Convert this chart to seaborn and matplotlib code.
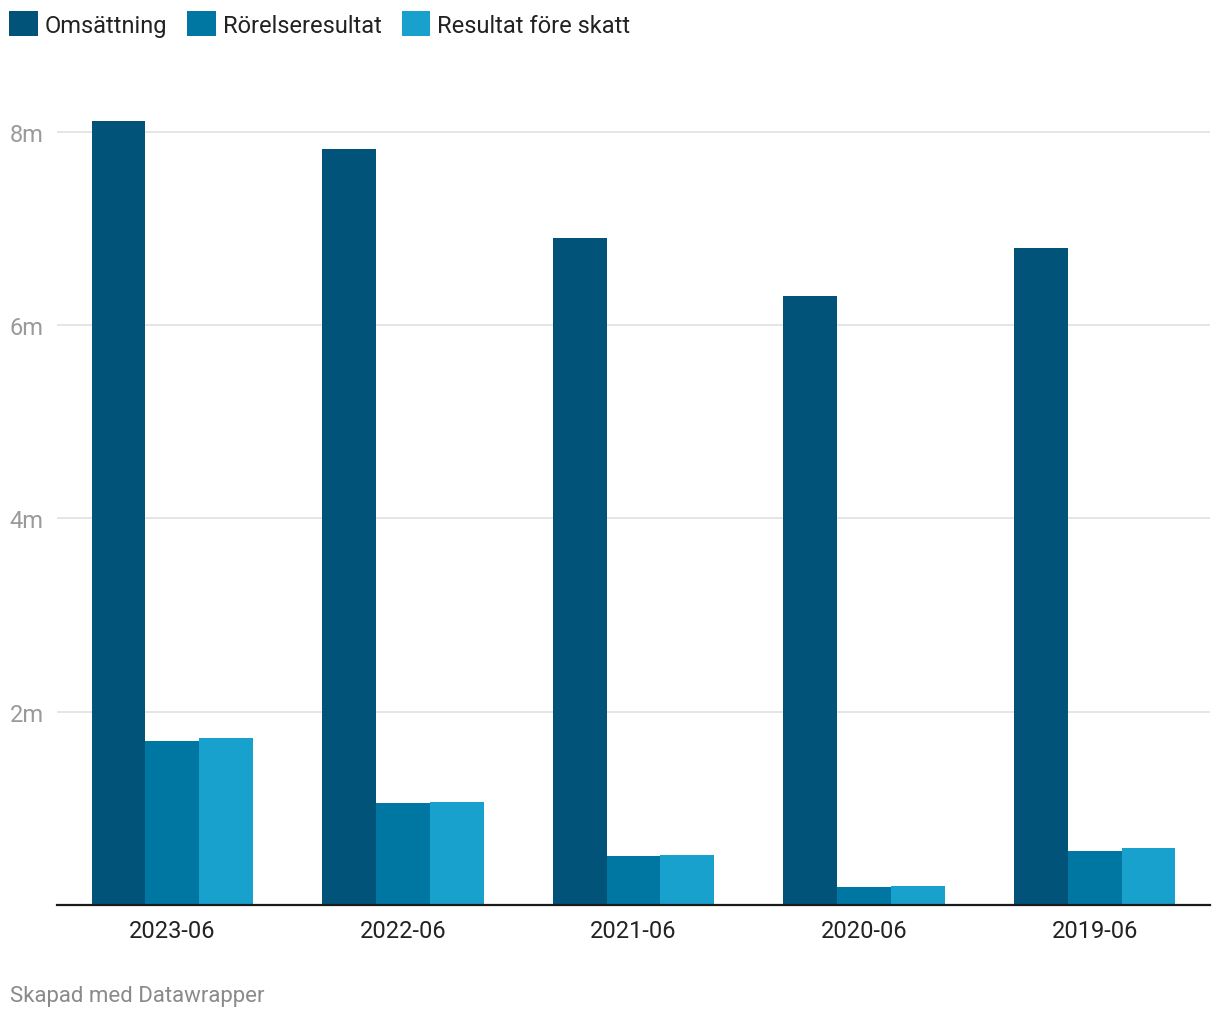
import pandas as pd
import numpy as np
import matplotlib.pyplot as plt
import seaborn as sns
from matplotlib.patches import Patch

# data (values in millions)
perioder = ["2023-06", "2022-06", "2021-06", "2020-06", "2019-06"]
omsattning = [8.11, 7.82, 6.90, 6.30, 6.80]
rorelseresultat = [1.70, 1.06, 0.51, 0.19, 0.56]
resultat_fore_skatt = [1.73, 1.07, 0.52, 0.20, 0.59]

serier = ["Omsättning", "Rörelseresultat", "Resultat före skatt"]
farger = ["#01537a", "#0077a2", "#19a1cd"]
y_ticks = [2, 4, 6, 8]
y_labels = ["2m", "4m", "6m", "8m"]

df = pd.DataFrame({
    "period": perioder * 3,
    "serie": [serier[0]] * 5 + [serier[1]] * 5 + [serier[2]] * 5,
    "varde": omsattning + rorelseresultat + resultat_fore_skatt,
})

sns.set_style("white")
plt.rcParams["font.family"] = ["Roboto", "DejaVu Sans"]

fig = plt.figure(figsize=(12.2, 10.2), dpi=100)
ax = fig.add_axes([57 / 1220, 1 - 906 / 1020, (1210 - 57) / 1220, 802 / 1020])

sns.barplot(data=df, x="period", y="varde", hue="serie", order=perioder,
            hue_order=serier, palette=farger, width=0.7, saturation=1,
            linewidth=0, ax=ax, legend=False)

ax.set_xlim(-0.5, 4.5)
ax.set_ylim(0, 8.3)
ax.set_yticks(y_ticks)
ax.set_yticklabels(y_labels)
ax.set_xlabel("")
ax.set_ylabel("")
ax.grid(axis="y", color="#e3e3e3", linewidth=1.3)
ax.set_axisbelow(True)
for s in ["top", "right", "left"]:
    ax.spines[s].set_visible(False)
ax.spines["bottom"].set_color("#1a1a1a")
ax.spines["bottom"].set_linewidth(1.6)
ax.tick_params(axis="x", length=0, pad=10, labelsize=17, labelcolor="#222222")
ax.tick_params(axis="y", length=0, pad=34, labelsize=17, labelcolor="#9a9a9a")
for t in ax.get_yticklabels():
    t.set_horizontalalignment("left")

handles = [Patch(facecolor=c, edgecolor="none", label=s) for c, s in zip(farger, serier)]
fig.legend(handles=handles, loc="upper left", bbox_to_anchor=(0.0, 1 - 3 / 1020),
           ncol=3, frameon=False, fontsize=17, handlelength=1.2, handleheight=1.2,
           handletextpad=0.3, columnspacing=0.85, borderaxespad=0.0,
           labelcolor="#222222")

fig.text(10 / 1220, 1 - 997 / 1020, "Skapad med Datawrapper", fontsize=16,
         color="#8a8a8a", va="center", ha="left")

fig.savefig("out.png", dpi=100, facecolor="white")
